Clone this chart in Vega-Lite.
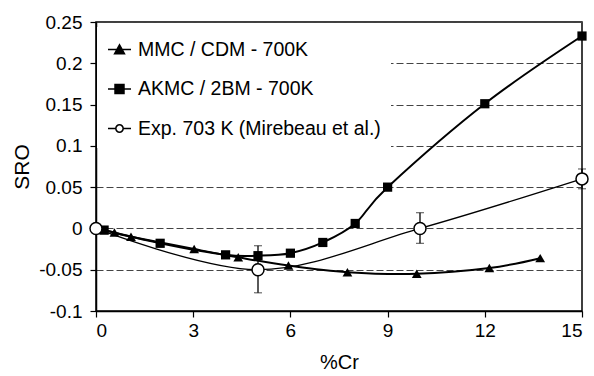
{
  "$schema": "https://vega.github.io/schema/vega-lite/v6.json",
  "width": 486,
  "height": 289,
  "autosize": {"type": "none"},
  "padding": {"left": 96, "top": 22, "right": 12, "bottom": 65},
  "background": "white",
  "config": {
    "view": {"stroke": "black", "strokeWidth": 1.5},
    "font": "Liberation Sans",
    "axis": {
      "labelFont": "Liberation Sans", "labelFontSize": 19, "labelColor": "black",
      "titleFont": "Liberation Sans", "titleFontSize": 20, "titleFontWeight": "normal", "titleColor": "black",
      "domainColor": "black", "domainWidth": 1.5, "tickColor": "black", "tickWidth": 1.2, "tickSize": 6
    },
    "legend": {
      "orient": "none", "legendX": 1, "legendY": 5, "padding": 10, "fillColor": "white",
      "symbolSize": 529, "labelFont": "Liberation Sans", "labelFontSize": 19.5, "labelColor": "black",
      "labelOffset": 6, "rowPadding": 17.5, "symbolStrokeWidth": 1.5, "symbolStrokeColor": "black", "labelLimit": 400
    }
  },
  "datasets": {
    "pts": [
      {"series": "MMC / CDM - 700K", "x": 0.25, "y": -0.002},
      {"series": "MMC / CDM - 700K", "x": 0.57, "y": -0.005},
      {"series": "MMC / CDM - 700K", "x": 1.08, "y": -0.010},
      {"series": "MMC / CDM - 700K", "x": 3.03, "y": -0.025},
      {"series": "MMC / CDM - 700K", "x": 4.39, "y": -0.035},
      {"series": "MMC / CDM - 700K", "x": 5.94, "y": -0.045},
      {"series": "MMC / CDM - 700K", "x": 7.76, "y": -0.053},
      {"series": "MMC / CDM - 700K", "x": 9.9, "y": -0.055},
      {"series": "MMC / CDM - 700K", "x": 12.14, "y": -0.048},
      {"series": "MMC / CDM - 700K", "x": 13.71, "y": -0.036},
      {"series": "AKMC / 2BM - 700K", "x": 0.25, "y": -0.002},
      {"series": "AKMC / 2BM - 700K", "x": 1.98, "y": -0.018},
      {"series": "AKMC / 2BM - 700K", "x": 4.0, "y": -0.032},
      {"series": "AKMC / 2BM - 700K", "x": 5.0, "y": -0.033},
      {"series": "AKMC / 2BM - 700K", "x": 6.0, "y": -0.030},
      {"series": "AKMC / 2BM - 700K", "x": 7.0, "y": -0.017},
      {"series": "AKMC / 2BM - 700K", "x": 8.0, "y": 0.006},
      {"series": "AKMC / 2BM - 700K", "x": 9.0, "y": 0.050},
      {"series": "AKMC / 2BM - 700K", "x": 12.0, "y": 0.151},
      {"series": "AKMC / 2BM - 700K", "x": 15.0, "y": 0.233},
      {"series": "Exp. 703 K (Mirebeau et al.)", "x": 0, "y": 0},
      {"series": "Exp. 703 K (Mirebeau et al.)", "x": 5.0, "y": -0.050, "lo": -0.078, "hi": -0.021},
      {"series": "Exp. 703 K (Mirebeau et al.)", "x": 10.0, "y": 0.0, "lo": -0.018, "hi": 0.019},
      {"series": "Exp. 703 K (Mirebeau et al.)", "x": 15.0, "y": 0.060, "lo": 0.048, "hi": 0.072}
    ]
  },
  "data": {"name": "pts"},
  "encoding": {
    "x": {"field": "x", "type": "quantitative", "title": "%Cr",
      "scale": {"domain": [0, 15], "nice": false, "zero": false},
      "axis": {"values": [0, 3, 6, 9, 12, 15], "grid": false, "labelPadding": 4, "titlePadding": 12, "labelExpr": "'' + datum.value"}},
    "y": {"field": "y", "type": "quantitative", "title": "SRO",
      "scale": {"domain": [-0.1, 0.25], "nice": false, "zero": false},
      "axis": {"values": [-0.1, -0.05, 0, 0.05, 0.1, 0.15, 0.2, 0.25], "grid": true, "gridColor": "#444444", "gridDash": [7, 3], "gridWidth": 1,
        "labelPadding": 8, "titlePadding": 6, "titleFontSize": 21, "labelExpr": "'' + datum.value"}}
  },
  "layer": [
    {"transform": [{"filter": "datum.series == 'MMC / CDM - 700K'"}],
     "mark": {"type": "line", "interpolate": "cardinal", "color": "black", "strokeWidth": 2}},
    {"transform": [{"filter": "datum.series == 'AKMC / 2BM - 700K'"}],
     "mark": {"type": "line", "interpolate": "cardinal", "color": "black", "strokeWidth": 2}},
    {"transform": [{"filter": "datum.series == 'Exp. 703 K (Mirebeau et al.)'"}],
     "mark": {"type": "line", "interpolate": "cardinal", "color": "black", "strokeWidth": 1.3}},
    {"transform": [{"filter": "isValid(datum.lo)"}],
     "mark": {"type": "errorbar", "ticks": {"size": 8, "color": "black", "strokeWidth": 1.3}, "rule": {"color": "black", "strokeWidth": 1.3}},
     "encoding": {
       "x": {"field": "x", "type": "quantitative", "title": "%Cr"},
       "y": {"field": "lo", "type": "quantitative", "title": "SRO"},
       "y2": {"field": "hi"}
     }},
    {"transform": [{"filter": "datum.series == 'MMC / CDM - 700K'"}],
     "mark": {"type": "point", "shape": "triangle-up", "filled": true, "color": "black", "opacity": 1, "size": 95}},
    {"transform": [{"filter": "datum.series == 'AKMC / 2BM - 700K'"}],
     "mark": {"type": "point", "shape": "square", "filled": true, "color": "black", "opacity": 1, "size": 85}},
    {"transform": [{"filter": "datum.series == 'Exp. 703 K (Mirebeau et al.)'"}],
     "mark": {"type": "point", "shape": "circle", "filled": true, "fill": "white", "stroke": "black", "strokeWidth": 1.5, "opacity": 1, "size": 144}},
    {"transform": [{"filter": "false"}],
     "mark": {"type": "point", "filled": true, "strokeWidth": 1.5, "opacity": 1},
     "encoding": {
       "shape": {"field": "series", "type": "nominal", "title": null,
         "scale": {"domain": ["MMC / CDM - 700K", "AKMC / 2BM - 700K", "Exp. 703 K (Mirebeau et al.)"],
           "range": ["M-1,0H1M-0.43,0.37L0,-0.4L0.43,0.37Z", "M-1,0H1M-0.39,-0.39H0.39V0.39H-0.39Z", "M-1,0H-0.32M0.32,0H1M0.32,0A0.32,0.32,0,1,1,-0.32,0A0.32,0.32,0,1,1,0.32,0Z"]}},
       "fill": {"field": "series", "type": "nominal", "title": null,
         "scale": {"domain": ["MMC / CDM - 700K", "AKMC / 2BM - 700K", "Exp. 703 K (Mirebeau et al.)"],
           "range": ["black", "black", "white"]}},
       "stroke": {"field": "series", "type": "nominal", "title": null,
         "scale": {"domain": ["MMC / CDM - 700K", "AKMC / 2BM - 700K", "Exp. 703 K (Mirebeau et al.)"],
           "range": ["black", "black", "black"]}}
     }}
  ]
}
